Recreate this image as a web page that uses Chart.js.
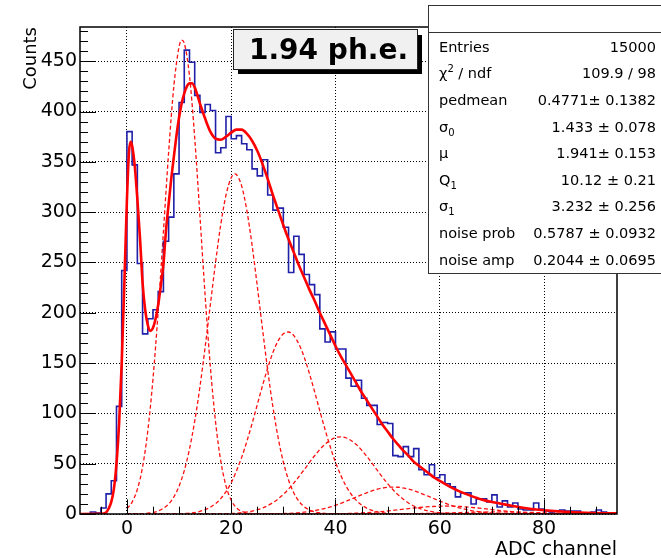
<!DOCTYPE html>
<html>
<head>
<meta charset="utf-8">
<script src="https://cdn.jsdelivr.net/npm/chart.js@4.4.0/dist/chart.umd.min.js"></script>
<style>
  html, body { margin: 0; padding: 0; background: #fff; }
</style>
</head>
<body>
<canvas id="spec" width="661" height="558"></canvas>
<script>
// histogram, 1 ADC channel per bin, first bin starts at -9
const histStart = -9;
const histEnd = 94;
const counts = [
  0, 0, 2, 1, 6, 20, 33, 107, 242,
  380, 347, 249, 179, 194, 203, 221, 271, 295, 338,
  409, 461, 449, 416, 399, 407, 401, 359, 364, 395,
  373, 376, 368, 362, 343, 336, 352, 317, 302, 304,
  285, 240, 276, 258, 238, 228, 218, 184, 171, 181,
  164, 164, 135, 127, 133, 115, 108, 108, 89, 91,
  90, 58, 57, 67, 57, 65, 44, 39, 49, 36,
  39, 30, 27, 17, 21, 21, 10, 15, 15, 12,
  19, 7, 13, 7, 11, 5, 4, 4, 11, 5,
  3, 2, 3, 4, 3, 3, 3, 1, 1, 2, 4, 2, 1, 0
];

// total fit curve
const fitX = [-9, -5, -4, -3.5, -3, -2.5, -2, -1.5, -1, -0.5, 0, 0.4, 0.7, 1, 1.5, 2, 2.5, 3, 3.5, 4, 4.5, 5,
  5.5, 6, 6.5, 7, 7.5, 8, 8.5, 9, 9.5, 10, 10.5, 11, 11.5, 12, 12.5, 13, 14, 15, 16, 17, 18, 19, 20,
  21, 22, 23, 24, 25, 26, 27, 28, 29, 30, 31, 32, 33, 34, 35, 36, 37, 38, 39, 40, 41, 42, 43, 44, 45,
  46, 47, 48, 49, 50, 51, 52, 53, 54, 55, 56, 57, 58, 59, 60, 62, 64, 66, 68, 70, 72, 74, 76, 78, 80,
  84, 88, 94];
const fitY = [0, 0.1, 1.5, 5.5, 12, 25, 50, 90, 150, 228, 312, 360, 370, 366, 346, 313, 275, 230, 203, 188, 182, 185,
  194, 208, 227, 248, 282, 308, 333, 355, 376, 394, 408, 418, 425, 428, 428, 424, 408, 393, 380, 373, 372, 375, 379,
  382, 382, 378, 371, 361, 348, 333, 317, 302, 287, 273, 260, 247, 235, 223, 212, 200, 189, 178, 167, 157, 148, 139, 130, 121,
  113, 105, 97, 89, 82, 75, 69, 63, 58, 52, 48, 44, 40, 36, 33, 27, 22, 18, 14.5, 12, 10, 8, 6.2, 4.8, 3.7,
  2.2, 1.3, 0.6];

// single photo-electron components (dashed)
const pe1X = [0, 1, 2, 3, 4, 5, 6, 7, 8, 9, 10, 10.5, 11, 12, 13, 14, 15, 16, 17, 18, 19, 20, 21, 22, 23, 24, 25, 26, 94];
const pe1Y = [5.3, 11.8, 24.5, 46.7, 82.5, 134.4, 202, 280.5, 359.4, 425.2, 464.3, 471, 468, 435.5, 374, 296.6, 217,
  146.7, 91.5, 52.7, 28, 13.7, 6.2, 2.6, 1, 0.4, 0.1, 0, 0];
const pe2X = [0, 2, 4, 6, 8, 9, 10, 11, 12, 13, 14, 15, 16, 17, 18, 19, 20, 20.7, 21, 22, 23, 24, 25, 26, 27, 28, 29,
  30, 31, 32, 33, 34, 35, 36, 38, 40, 45, 94];
const pe2Y = [0.03, 0.16, 0.77, 3, 9.9, 16.9, 27.6, 43.1, 64.5, 92.2, 126.3, 165.7, 208, 250, 287.7, 316.9, 334.2, 338,
  337.4, 326.1, 301.8, 267.4, 226.8, 184.1, 143.1, 106.5, 75.9, 51.7, 33.8, 21.1, 12.6, 7.2, 4, 2.1, 0.5, 0.1, 0, 0];
const pe3X = [0, 8, 10, 12, 14, 16, 18, 20, 22, 23, 24, 25, 26, 27, 28, 29, 30, 31, 32, 33, 34, 35, 36, 37, 38, 39, 40,
  42, 44, 46, 48, 50, 54, 60, 94];
const pe3Y = [0, 0.07, 0.27, 0.89, 2.6, 6.7, 15.3, 31.1, 56.2, 72.1, 89.8, 108.6, 127.4, 145.1, 160.4, 172.1, 179.1,
  180.9, 177.4, 168.8, 155.9, 139.7, 121.5, 102.5, 84, 66.8, 51.5, 28, 13.5, 5.8, 2.2, 0.74, 0.06, 0, 0];
const pe4X = [0, 16, 20, 22, 24, 26, 28, 30, 32, 34, 36, 38, 40, 41, 42, 44, 46, 48, 50, 52, 54, 56, 58, 60, 64, 70, 94];
const pe4Y = [0, 0.06, 0.51, 1.27, 2.88, 5.97, 11.3, 19.5, 30.7, 44.1, 57.9, 69.4, 75.9, 76.7, 75.8, 69, 57.4, 43.6,
  30.2, 19.1, 11, 5.8, 2.8, 1.23, 0.18, 0, 0];
const pe5X = [0, 26, 30, 34, 38, 40, 42, 44, 46, 48, 50, 51, 52, 54, 56, 58, 60, 62, 64, 66, 68, 70, 74, 80, 94];
const pe5Y = [0, 0.08, 0.45, 1.83, 5.54, 8.65, 12.5, 16.9, 21.1, 24.6, 26.5, 26.8, 26.6, 24.8, 21.4, 17.2, 12.9, 8.94,
  5.76, 3.45, 1.92, 0.99, 0.21, 0.01, 0];
const pe6X = [0, 36, 40, 44, 48, 52, 56, 60, 61, 62, 64, 68, 72, 76, 80, 84, 90, 94];
const pe6Y = [0, 0.06, 0.25, 0.81, 2.06, 4.12, 6.44, 7.84, 7.93, 7.89, 7.46, 5.55, 3.22, 1.46, 0.52, 0.14, 0.01, 0];
const pe7X = [0, 46, 50, 54, 58, 62, 66, 70, 71, 72, 74, 78, 82, 86, 90, 94];
const pe7Y = [0, 0.03, 0.1, 0.28, 0.63, 1.14, 1.69, 2.02, 2.04, 2.03, 1.94, 1.52, 0.96, 0.49, 0.2, 0.07];

const xTicks = [0, 20, 40, 60, 80];
const yTicks = [0, 50, 100, 150, 200, 250, 300, 350, 400, 450];
const yMax = 484;

const statRows = [
  [[{t: 'Entries'}], '15000'],
  [[{t: 'χ'}, {t: '2', sup: true}, {t: ' / ndf'}], '109.9 / 98'],
  [[{t: 'pedmean'}], '0.4771± 0.1382'],
  [[{t: 'σ'}, {t: '0', sub: true}], '1.433 ± 0.078'],
  [[{t: 'μ'}], '1.941± 0.153'],
  [[{t: 'Q'}, {t: '1', sub: true}], '10.12 ± 0.21'],
  [[{t: 'σ'}, {t: '1', sub: true}], '3.232 ± 0.256'],
  [[{t: 'noise prob'}], '0.5787 ± 0.0932'],
  [[{t: 'noise amp'}], '0.2044 ± 0.0695']
];
const boxText = '1.94 ph.e.';

const FONT = '"DejaVu Sans", "Liberation Sans", sans-serif';

function pts(xs, ys) { return xs.map((x, i) => ({x: x, y: ys[i]})); }

const histData = counts.map((c, i) => ({x: histStart + i, y: c}));
histData.push({x: histEnd, y: counts[counts.length - 1]});

const comps = [[pe1X, pe1Y], [pe2X, pe2Y], [pe3X, pe3Y], [pe4X, pe4Y], [pe5X, pe5Y], [pe6X, pe6Y], [pe7X, pe7Y]];

const datasets = [
  {data: pts(fitX, fitY), borderColor: '#ff0000', borderWidth: 2.6, pointRadius: 0, cubicInterpolationMode: 'monotone'},
  {data: histData, borderColor: '#2020a8', borderWidth: 1.6, pointRadius: 0, stepped: 'before'}
];
comps.forEach(c => {
  datasets.push({data: pts(c[0], c[1]), borderColor: '#ff1010', borderWidth: 1.3, borderDash: [4, 2.5],
    pointRadius: 0, cubicInterpolationMode: 'monotone'});
});

// ROOT style frame, inner ticks, text box and stats box
const rootDecor = {
  id: 'rootDecor',
  afterDraw(chart) {
    const {ctx, chartArea: a, scales: {x, y}} = chart;
    ctx.save();
    ctx.strokeStyle = '#000';
    ctx.lineWidth = 1;
    ctx.beginPath();
    for (let v = 0; v <= yMax; v += 10) {
      const py = Math.round(y.getPixelForValue(v)) + 0.5;
      const len = v % 50 === 0 ? 16 : 8;
      ctx.moveTo(a.left, py); ctx.lineTo(a.left + len, py);
    }
    for (let v = -5; v <= 90; v += 5) {
      const px = Math.round(x.getPixelForValue(v)) + 0.5;
      const len = v % 20 === 0 ? 14.6 : 7.3;
      ctx.moveTo(px, a.bottom); ctx.lineTo(px, a.bottom - len);
    }
    ctx.stroke();
    ctx.lineWidth = 1.5;
    ctx.strokeRect(a.left, a.top, a.right - a.left, a.bottom - a.top);

    // text box with shadow
    ctx.fillStyle = '#000';
    ctx.fillRect(238, 35, 184, 39);
    ctx.fillStyle = '#f0f0f0';
    ctx.fillRect(233.5, 29.5, 184, 40);
    ctx.lineWidth = 1;
    ctx.strokeStyle = '#222';
    ctx.strokeRect(233.5, 29.5, 184, 40);
    ctx.fillStyle = '#000';
    ctx.font = 'bold 28px ' + FONT;
    ctx.textBaseline = 'alphabetic';
    ctx.textAlign = 'left';
    ctx.fillText(boxText, 249, 58.5);

    // stats box
    ctx.fillStyle = '#fff';
    ctx.fillRect(428.5, 5.5, 240, 268);
    ctx.strokeStyle = '#333';
    ctx.strokeRect(428.5, 5.5, 240, 268);
    ctx.beginPath(); ctx.moveTo(428.5, 32.5); ctx.lineTo(661, 32.5); ctx.stroke();
    ctx.fillStyle = '#000';
    statRows.forEach((r, i) => {
      const by = 51.7 + 26.6 * i;
      let cx = 439;
      ctx.textAlign = 'left';
      r[0].forEach(p => {
        if (p.sub || p.sup) {
          ctx.font = '10px ' + FONT;
          ctx.fillText(p.t, cx, by + (p.sub ? 4 : -6));
        } else {
          ctx.font = '14.5px ' + FONT;
          ctx.fillText(p.t, cx, by);
        }
        cx += ctx.measureText(p.t).width;
      });
      ctx.font = '14.5px ' + FONT;
      ctx.textAlign = 'right';
      ctx.fillText(r[1], 656, by);
    });
    ctx.restore();
  }
};

new Chart(document.getElementById('spec'), {
  type: 'line',
  data: {datasets: datasets},
  plugins: [rootDecor],
  options: {
    responsive: false,
    animation: false,
    layout: {padding: {top: 27, right: 44, left: 0, bottom: 0}},
    plugins: {legend: {display: false}, tooltip: {enabled: false}},
    scales: {
      x: {
        type: 'linear', min: histStart, max: histEnd,
        afterBuildTicks: s => { s.ticks = xTicks.map(v => ({value: v})); },
        afterFit: s => { s.height = 44; },
        grid: {color: '#000', lineWidth: 1, drawTicks: false},
        border: {display: false, dash: [1, 2]},
        ticks: {padding: 4, color: '#000', maxRotation: 0, font: {family: FONT, size: 19}},
        title: {display: true, text: 'ADC channel', align: 'end', color: '#000',
          font: {family: FONT, size: 19, lineHeight: 0.8}, padding: {top: 0, bottom: 0}}
      },
      y: {
        min: 0, max: yMax,
        afterBuildTicks: s => { s.ticks = yTicks.map(v => ({value: v})); },
        afterFit: s => { s.width = 80; },
        grid: {color: '#000', lineWidth: 1, drawTicks: false},
        border: {display: false, dash: [1, 2]},
        ticks: {padding: 3, color: '#000', font: {family: FONT, size: 19}},
        title: {display: true, text: 'Counts', align: 'end', color: '#000',
          font: {family: FONT, size: 18}, padding: {top: 21, bottom: 0}}
      }
    }
  }
});
</script>
</body>
</html>
